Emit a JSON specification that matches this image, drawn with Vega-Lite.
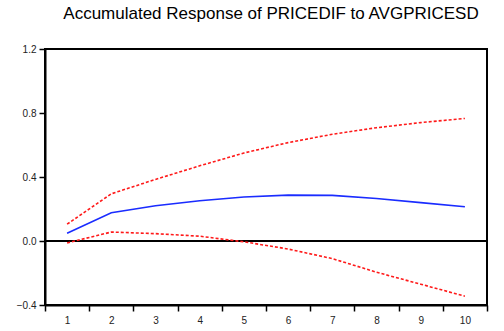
{
  "$schema": "https://vega.github.io/schema/vega-lite/v6.json",
  "width": 442,
  "height": 256,
  "autosize": {"type": "none"},
  "padding": {"left": 45, "top": 49, "right": 17, "bottom": 26},
  "background": "white",
  "title": {
    "text": "Accumulated Response of PRICEDIF to AVGPRICESD",
    "font": "Liberation Sans",
    "fontSize": 17,
    "fontWeight": "normal",
    "color": "#000",
    "anchor": "middle",
    "frame": "group",
    "offset": 21,
    "dx": 5
  },
  "config": {
    "view": {"stroke": "black", "strokeWidth": 2},
    "axis": {
      "domainColor": "black",
      "domainWidth": 2,
      "tickColor": "black",
      "tickWidth": 1.5,
      "tickSize": 6,
      "labelFont": "Liberation Sans",
      "labelFontSize": 10,
      "labelColor": "#222",
      "grid": false,
      "title": null
    }
  },
  "data": {
    "values": [
      {"step": 1, "series": "upper", "value": 0.105},
      {"step": 2, "series": "upper", "value": 0.295},
      {"step": 3, "series": "upper", "value": 0.385},
      {"step": 4, "series": "upper", "value": 0.47},
      {"step": 5, "series": "upper", "value": 0.55},
      {"step": 6, "series": "upper", "value": 0.615},
      {"step": 7, "series": "upper", "value": 0.667},
      {"step": 8, "series": "upper", "value": 0.708},
      {"step": 9, "series": "upper", "value": 0.74},
      {"step": 10, "series": "upper", "value": 0.766},
      {"step": 1, "series": "response", "value": 0.048},
      {"step": 2, "series": "response", "value": 0.177},
      {"step": 3, "series": "response", "value": 0.22},
      {"step": 4, "series": "response", "value": 0.252},
      {"step": 5, "series": "response", "value": 0.275},
      {"step": 6, "series": "response", "value": 0.287},
      {"step": 7, "series": "response", "value": 0.285},
      {"step": 8, "series": "response", "value": 0.266},
      {"step": 9, "series": "response", "value": 0.24},
      {"step": 10, "series": "response", "value": 0.214},
      {"step": 1, "series": "lower", "value": -0.012},
      {"step": 2, "series": "lower", "value": 0.056},
      {"step": 3, "series": "lower", "value": 0.046},
      {"step": 4, "series": "lower", "value": 0.03},
      {"step": 5, "series": "lower", "value": -0.005},
      {"step": 6, "series": "lower", "value": -0.05},
      {"step": 7, "series": "lower", "value": -0.11},
      {"step": 8, "series": "lower", "value": -0.195},
      {"step": 9, "series": "lower", "value": -0.27},
      {"step": 10, "series": "lower", "value": -0.345}
    ]
  },
  "encoding": {
    "x": {
      "field": "step",
      "type": "ordinal",
      "bandPosition": 0.5,
      "scale": {"type": "band", "paddingInner": 0, "paddingOuter": 0},
      "axis": {"tickBand": "extent", "labelAngle": 0, "labelPadding": 4}
    },
    "y": {
      "field": "value",
      "type": "quantitative",
      "scale": {"domain": [-0.4, 1.2], "nice": false, "zero": false},
      "axis": {"values": [-0.4, 0, 0.4, 0.8, 1.2], "format": ".1f", "labelPadding": 3}
    }
  },
  "layer": [
    {
      "mark": {"type": "rule", "color": "black", "strokeWidth": 1.5},
      "encoding": {"x": null, "y": {"datum": 0}}
    },
    {
      "transform": [{"filter": "datum.series !== 'response'"}],
      "mark": {"type": "line", "color": "#ff1a1a", "strokeWidth": 1.6, "strokeDash": [3, 2]},
      "encoding": {"detail": {"field": "series"}}
    },
    {
      "transform": [{"filter": "datum.series === 'response'"}],
      "mark": {"type": "line", "color": "#1a2cff", "strokeWidth": 1.6}
    }
  ]
}
